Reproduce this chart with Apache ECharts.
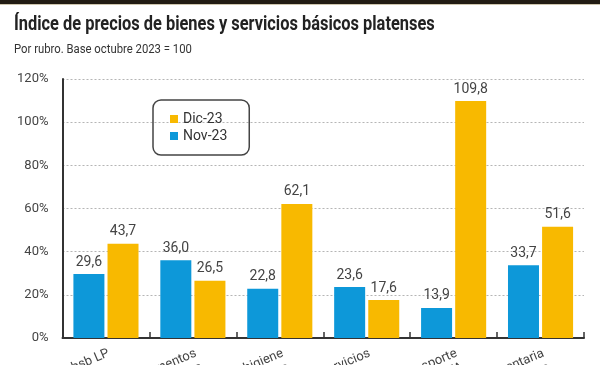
<!DOCTYPE html>
<html>
<head>
<meta charset="utf-8">
<script src="https://cdn.jsdelivr.net/npm/echarts@6/dist/echarts.min.js"></script>
<style>html,body{margin:0;padding:0;background:#fff}#c{width:600px;height:365px}</style>
</head>
<body>
<div id="c"></div>
<script>
var categories = ["Ipbsb LP", "Alimentos\ny bebidas", "Artículos de higiene\ny limpieza", "Servicios", "Transporte\nNAFTA", "Canasta alimentaria\nbásica"];
var nov23 = [29.6, 36.0, 22.8, 23.6, 13.9, 33.7];
var dic23 = [43.7, 26.5, 62.1, 17.6, 109.8, 51.6];
var yTicks = [0, 20, 40, 60, 80, 100, 120];

var FONT = 'Roboto, sans-serif';
var chart = echarts.init(document.getElementById('c'), null, {renderer: 'canvas'});
function fmt(p){ return p.value.toFixed(1).replace('.', ','); }
chart.setOption({
  animation: false,
  textStyle: {fontFamily: FONT},
  graphic: [
    {type: 'rect', shape: {x: 0, y: 0, width: 600, height: 4}, style: {fill: '#221c13'}},
    {type: 'rect', shape: {x: 0, y: 4, width: 600, height: 1}, style: {fill: '#cfc6ae'}},
    {type: 'text', x: 14, y: 25, scaleX: 0.82, originX: 0,
     style: {text: 'Índice de precios de bienes y servicios básicos platenses', font: 'bold 20px Roboto, sans-serif', fill: '#222', verticalAlign: 'middle', align: 'left'}},
    {type: 'text', x: 14, y: 50, scaleX: 0.87, originX: 0,
     style: {text: 'Por rubro. Base octubre 2023 = 100', font: '13px Roboto, sans-serif', fill: '#333', verticalAlign: 'middle', align: 'left'}}
  ],
  legend: {
    data: ['Dic-23', 'Nov-23'],
    orient: 'vertical', left: 153, top: 100,
    padding: [12, 22, 12, 17],
    borderColor: '#444', borderWidth: 1.5, borderRadius: 8,
    itemWidth: 8, itemHeight: 8, itemGap: 3,
    icon: 'rect',
    textStyle: {fontFamily: FONT, fontSize: 14, color: '#333'}
  },
  grid: {left: 62.5, right: 16, top: 79, bottom: 27, containLabel: false, outerBoundsMode: 'none'},
  xAxis: {
    type: 'category', data: categories,
    axisLine: {lineStyle: {color: '#333', width: 2}},
    axisTick: {show: true, inside: true, length: 6, lineStyle: {color: '#333', width: 1.5}},
    axisLabel: {interval: 0, rotate: 23, margin: 8, fontSize: 13, color: '#444', fontFamily: FONT,
                hideOverlap: false, verticalAlign: 'top', align: 'right', lineHeight: 15}
  },
  yAxis: {
    type: 'value', min: yTicks[0], max: yTicks[yTicks.length - 1], interval: 20,
    axisLine: {show: true, lineStyle: {color: '#333', width: 2}},
    axisTick: {show: false},
    axisLabel: {formatter: '{value}%', fontSize: 13, color: '#444', margin: 14, fontFamily: FONT},
    splitLine: {show: true, lineStyle: {color: '#b5b5b5', type: [2, 2], width: 1}}
  },
  series: [
    {name: 'Nov-23', type: 'bar', data: nov23, barWidth: 31, barGap: '10%',
     itemStyle: {color: '#0d98d9'},
     label: {show: true, position: 'top', distance: 5, fontSize: 14, color: '#444', formatter: fmt, fontFamily: FONT}},
    {name: 'Dic-23', type: 'bar', data: dic23, barWidth: 31,
     itemStyle: {color: '#f8b900'},
     label: {show: true, position: 'top', distance: 5, fontSize: 14, color: '#444', formatter: fmt, fontFamily: FONT}}
  ]
});
</script>
</body>
</html>
